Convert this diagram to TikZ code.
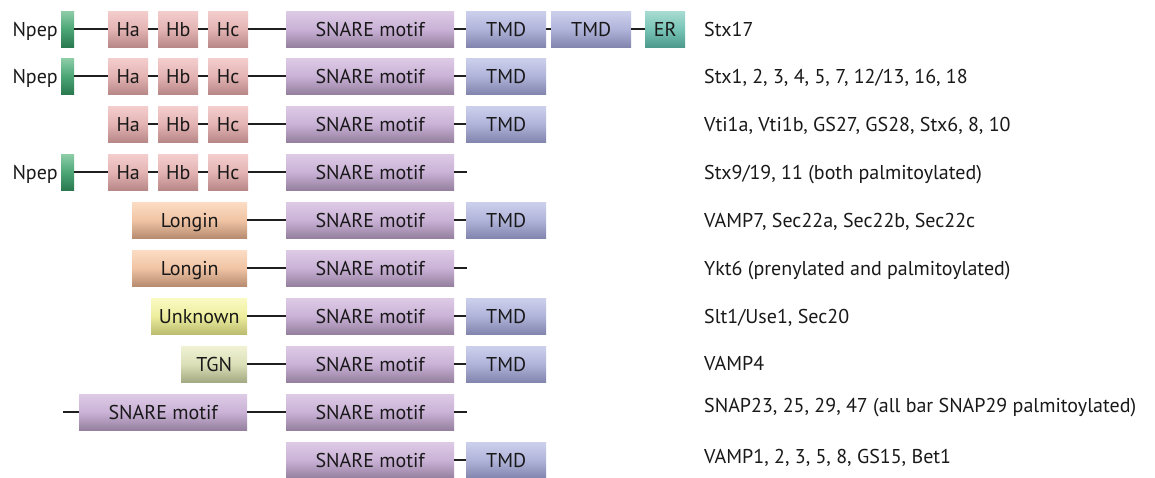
\documentclass[tikz,border=0pt]{standalone}
\usepackage{fontspec}
\setmainfont{PT Sans}
\begin{document}
\begin{tikzpicture}[x=1pt,y=-1pt,
  dom/.style={anchor=west,minimum height=36pt,inner sep=0pt,text height=14pt,text depth=0pt,font=\fontsize{20}{22}\selectfont,text=black!90},
  npep/.style={dom,minimum width=13pt,top color=npT,bottom color=npB,middle color=npM},
  hab/.style={dom,minimum width=40pt,top color=hpinkT,bottom color=hpinkB,middle color=hpinkM},
  snare/.style={dom,top color=snT,bottom color=snB,middle color=snM},
  tmd/.style={dom,minimum width=80pt,top color=tmT,bottom color=tmB,middle color=tmM},
  er/.style={dom,minimum width=40pt,top color=erT,bottom color=erB,middle color=erM},
  longin/.style={dom,top color=loT,bottom color=loB,middle color=loM},
  unk/.style={dom,top color=unT,bottom color=unB,middle color=unM},
  tgn/.style={dom,top color=tgT,bottom color=tgB,middle color=tgM},
  lbl/.style={anchor=west,inner sep=0pt,text height=14pt,text depth=0pt,font=\fontsize{20}{22}\selectfont,text=black!90},
  link/.style={line width=2.4pt,draw=black!88}
]
\definecolor{npT}{HTML}{8ECDA8}\definecolor{npM}{HTML}{4CA676}\definecolor{npB}{HTML}{2A7A50}
\definecolor{hpinkT}{HTML}{F4CDCD}\definecolor{hpinkM}{HTML}{E4B4B4}\definecolor{hpinkB}{HTML}{B88888}
\definecolor{snT}{HTML}{DDCBE6}\definecolor{snM}{HTML}{CAB2D6}\definecolor{snB}{HTML}{95809F}
\definecolor{tmT}{HTML}{CDD0EC}\definecolor{tmM}{HTML}{B0B4DA}\definecolor{tmB}{HTML}{8286AE}
\definecolor{erT}{HTML}{A8DCD2}\definecolor{erM}{HTML}{78C4B6}\definecolor{erB}{HTML}{4E9A8C}
\definecolor{loT}{HTML}{FCDCC4}\definecolor{loM}{HTML}{F0C4A4}\definecolor{loB}{HTML}{B88C70}
\definecolor{unT}{HTML}{FAFAC4}\definecolor{unM}{HTML}{EEEE9E}\definecolor{unB}{HTML}{BCBC70}
\definecolor{tgT}{HTML}{F0F2D4}\definecolor{tgM}{HTML}{DCE0B8}\definecolor{tgB}{HTML}{A4AA84}
\useasboundingbox (0,0) rectangle (1155,477);
\fill[white] (0,0) rectangle (1155,477);
% Row 1
\node[lbl,anchor=east] (np1t) at (58,29) {Npep};
\node[npep] (np1) at (61,29) {};
\node[hab] (ha1) at (108,29) {Ha};
\node[hab] (hb1) at (158,29) {Hb};
\node[hab] (hc1) at (208,29) {Hc};
\node[snare,minimum width=168pt] (sn1) at (286,29) {SNARE motif};
\node[tmd] (tm1) at (466,29) {TMD};
\node[tmd] (tmb1) at (551,29) {TMD};
\node[er] (er1) at (645,29) {ER};
\node[lbl] (l1) at (704,29) {Stx17};
\draw[link] (np1.east)--(ha1.west) (ha1.east)--(hb1.west) (hb1.east)--(hc1.west) (hc1.east)--(sn1.west) (sn1.east)--(tm1.west) (tm1.east)--(tmb1.west) (tmb1.east)--(er1.west);
% Row 2
\node[lbl,anchor=east] (np2t) at (58,76) {Npep};
\node[npep] (np2) at (61,76) {};
\node[hab] (ha2) at (108,76) {Ha};
\node[hab] (hb2) at (158,76) {Hb};
\node[hab] (hc2) at (208,76) {Hc};
\node[snare,minimum width=168pt] (sn2) at (286,76) {SNARE motif};
\node[tmd] (tm2) at (466,76) {TMD};
\node[lbl] (l2) at (704,76) {Stx1, 2, 3, 4, 5, 7, 12/13, 16, 18};
\draw[link] (np2.east)--(ha2.west) (ha2.east)--(hb2.west) (hb2.east)--(hc2.west) (hc2.east)--(sn2.west) (sn2.east)--(tm2.west);
% Row 3
\node[hab] (ha3) at (108,124) {Ha};
\node[hab] (hb3) at (158,124) {Hb};
\node[hab] (hc3) at (208,124) {Hc};
\node[snare,minimum width=168pt] (sn3) at (286,124) {SNARE motif};
\node[tmd] (tm3) at (466,124) {TMD};
\node[lbl] (l3) at (704,124) {Vti1a, Vti1b, GS27, GS28, Stx6, 8, 10};
\draw[link] (ha3.east)--(hb3.west) (hb3.east)--(hc3.west) (hc3.east)--(sn3.west) (sn3.east)--(tm3.west);
% Row 4
\node[lbl,anchor=east] (np4t) at (58,172) {Npep};
\node[npep] (np4) at (61,172) {};
\node[hab] (ha4) at (108,172) {Ha};
\node[hab] (hb4) at (158,172) {Hb};
\node[hab] (hc4) at (208,172) {Hc};
\node[snare,minimum width=168pt] (sn4) at (286,172) {SNARE motif};
\coordinate (t4) at (467,172);
\node[lbl] (l4) at (704,172) {Stx9/19, 11 (both palmitoylated)};
\draw[link] (np4.east)--(ha4.west) (ha4.east)--(hb4.west) (hb4.east)--(hc4.west) (hc4.east)--(sn4.west) (sn4.east)--(t4);
% Row 5
\node[longin,minimum width=115pt] (lo5) at (132,220) {Longin};
\node[snare,minimum width=168pt] (sn5) at (286,220) {SNARE motif};
\node[tmd] (tm5) at (466,220) {TMD};
\node[lbl] (l5) at (704,220) {VAMP7, Sec22a, Sec22b, Sec22c};
\draw[link] (lo5.east)--(sn5.west) (sn5.east)--(tm5.west);
% Row 6
\node[longin,minimum width=115pt] (lo6) at (132,268) {Longin};
\node[snare,minimum width=168pt] (sn6) at (286,268) {SNARE motif};
\coordinate (t6) at (467,268);
\node[lbl] (l6) at (704,268) {Ykt6 (prenylated and palmitoylated)};
\draw[link] (lo6.east)--(sn6.west) (sn6.east)--(t6);
% Row 7
\node[unk,minimum width=96pt] (un7) at (151,316) {Unknown};
\node[snare,minimum width=168pt] (sn7) at (286,316) {SNARE motif};
\node[tmd] (tm7) at (466,316) {TMD};
\node[lbl] (l7) at (704,316) {Slt1/Use1, Sec20};
\draw[link] (un7.east)--(sn7.west) (sn7.east)--(tm7.west);
% Row 8
\node[tgn,minimum width=66pt] (tg8) at (181,364) {TGN};
\node[snare,minimum width=168pt] (sn8) at (286,364) {SNARE motif};
\node[tmd] (tm8) at (466,364) {TMD};
\node[lbl] (l8) at (704,363) {VAMP4};
\draw[link] (tg8.east)--(sn8.west) (sn8.east)--(tm8.west);
% Row 9
\coordinate (h9) at (63,412);
\node[snare,minimum width=168pt] (sa9) at (79,412) {SNARE motif};
\node[snare,minimum width=168pt] (sn9) at (286,412) {SNARE motif};
\coordinate (t9) at (467,412);
\node[lbl] (l9) at (704,405) {SNAP23, 25, 29, 47 (all bar SNAP29 palmitoylated)};
\draw[link] (h9)--(sa9.west) (sa9.east)--(sn9.west) (sn9.east)--(t9);
% Row 10
\node[snare,minimum width=168pt] (sn10) at (286,460) {SNARE motif};
\node[tmd] (tm10) at (466,460) {TMD};
\node[lbl] (l10) at (704,456) {VAMP1, 2, 3, 5, 8, GS15, Bet1};
\draw[link] (sn10.east)--(tm10.west);
\end{tikzpicture}
\end{document}
